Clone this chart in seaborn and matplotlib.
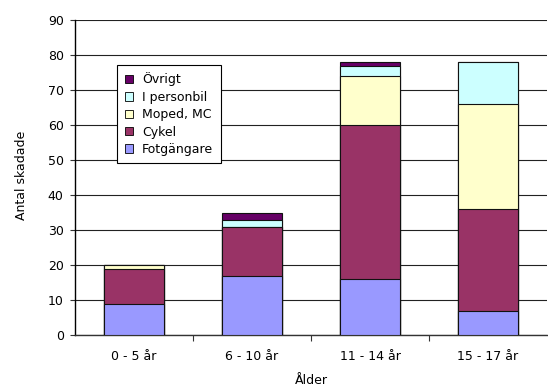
import numpy as np
import pandas as pd
import matplotlib
matplotlib.use("Agg")
import matplotlib.pyplot as plt
import seaborn as sns
from matplotlib.patches import Patch

# Injured children by age group and mode of travel
age_groups = ["0 - 5 år", "6 - 10 år", "11 - 14 år", "15 - 17 år"]
fotgangare = [9, 17, 16, 7]
cykel = [10, 14, 44, 29]
moped_mc = [1, 0, 14, 30]
i_personbil = [0, 2, 3, 12]
ovrigt = [0, 2, 1, 0]

series_names = ["Fotgängare", "Cykel", "Moped, MC", "I personbil", "Övrigt"]
series_values = [fotgangare, cykel, moped_mc, i_personbil, ovrigt]
series_colors = ["#9999FF", "#993366", "#FFFFCC", "#CCFFFF", "#660066"]

sns.set_style("white")
plt.rcParams["font.family"] = ["DejaVu Sans"]
plt.rcParams["font.size"] = 9
plt.rcParams["text.color"] = "black"
plt.rcParams["axes.labelcolor"] = "black"
plt.rcParams["xtick.color"] = "black"
plt.rcParams["ytick.color"] = "black"

fig = plt.figure(figsize=(5.48, 3.87), dpi=100)
ax = fig.add_axes([75 / 548, 52 / 387, 472 / 548, 315 / 387])

# Stacked bars: draw cumulative totals from the top segment downwards
cum = np.cumsum(np.array(series_values), axis=0)
for i in range(len(series_names) - 1, -1, -1):
    df = pd.DataFrame({"Ålder": age_groups, "Antal": cum[i]})
    sns.barplot(data=df, x="Ålder", y="Antal", color=series_colors[i],
                width=0.51, edgecolor="#111111", linewidth=0.8,
                saturation=1, ax=ax, zorder=3)

ax.set_xlim(-0.5, 3.5)
ax.set_ylim(0, 90)
ax.set_yticks(np.arange(0, 91, 10))
ax.yaxis.grid(True, color="#222222", linewidth=0.8, zorder=0)
ax.xaxis.grid(False)
ax.set_axisbelow(True)

for s in ["top", "right"]:
    ax.spines[s].set_visible(False)
ax.spines["left"].set_color("black")
ax.spines["left"].set_linewidth(1.0)
ax.spines["bottom"].set_color("#333333")
ax.spines["bottom"].set_linewidth(1.0)

# Category labels centered under bars, tick marks between categories
ax.set_xticks([0.5, 1.5, 2.5], minor=False)
ax.set_xticklabels([])
ax.set_xticks(range(len(age_groups)), minor=True)
ax.set_xticklabels(age_groups, minor=True)
ax.tick_params(axis="x", which="major", direction="out", length=4, width=0.8,
               color="#333333", bottom=True)
ax.tick_params(axis="x", which="minor", length=0, pad=11, labelsize=9)
ax.tick_params(axis="y", direction="out", length=3.6, width=0.8,
               color="#333333", left=True, pad=4.5, labelsize=9)

ax.set_xlabel("Ålder", fontsize=9)
ax.set_ylabel("Antal skadade", fontsize=9)
ax.xaxis.set_label_coords(0.5, -0.124)
ax.yaxis.set_label_coords(-0.100, 0.508)

handles = [Patch(facecolor=c, edgecolor="black", linewidth=0.6, label=n)
           for n, c in zip(series_names, series_colors)][::-1]
leg = fig.legend(handles=handles, loc="upper left",
                 bbox_to_anchor=(117 / 548, 1 - 65 / 387),
                 frameon=True, fancybox=False, fontsize=9,
                 handlelength=0.65, handleheight=0.65, handletextpad=0.75,
                 labelspacing=0.35, borderpad=0.6, borderaxespad=0)
leg.get_frame().set_edgecolor("black")
leg.get_frame().set_linewidth(0.8)
leg.get_frame().set_alpha(1)
leg.set_zorder(10)

fig.savefig("out.png", dpi=100)
